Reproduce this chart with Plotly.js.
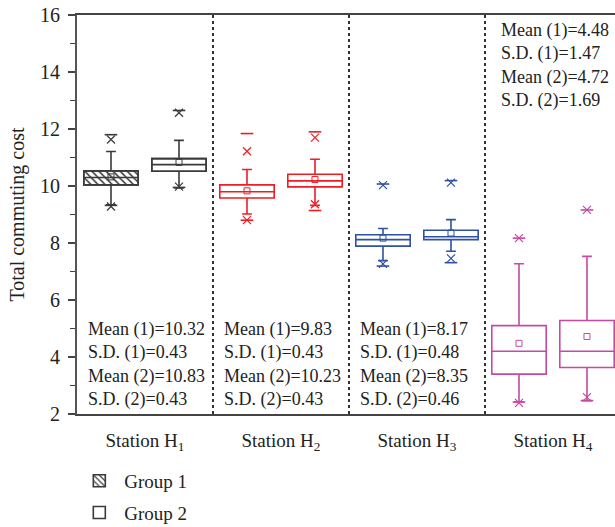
<!DOCTYPE html>
<html>
<head>
<meta charset="utf-8">
<script src="https://cdn.plot.ly/plotly-3.0.1.min.js"></script>
<style>html,body{margin:0;padding:0;overflow:hidden;background:#fff}</style>
</head>
<body>
<div id="chart" style="width:615px;height:527px"></div>
<script>
// ---- data ----
const stations = ['Station H<sub>1</sub>', 'Station H<sub>2</sub>', 'Station H<sub>3</sub>', 'Station H<sub>4</sub>'];
const groupNames = ['Group 1', 'Group 2'];

// Group 1 box statistics
const q1_g1   = [10.04, 9.58, 7.89, 3.40];
const med_g1  = [10.30, 9.80, 8.12, 4.20];
const q3_g1   = [10.53, 10.04, 8.29, 5.10];
const lo_g1   = [9.34, 9.02, 7.38, 2.42];
const hi_g1   = [11.21, 10.58, 8.51, 7.27];
const p1_g1   = [9.28, 8.80, 7.27, 2.39];
const p99_g1  = [11.63, 11.22, 10.03, 8.17];
const min_g1  = [9.32, 8.80, 7.19, 2.42];
const max_g1  = [11.80, 11.84, 10.07, 8.17];
const mean_g1 = [10.32, 9.83, 8.17, 4.48];
const sd_g1   = [0.43, 0.43, 0.48, 1.47];

// Group 2 box statistics
const q1_g2   = [10.52, 9.97, 8.12, 3.63];
const med_g2  = [10.75, 10.18, 8.22, 4.20];
const q3_g2   = [10.96, 10.41, 8.45, 5.28];
const lo_g2   = [9.93, 9.32, 7.71, 2.47];
const hi_g2   = [11.60, 10.94, 8.82, 7.53];
const p1_g2   = [9.98, 9.36, 7.46, 2.59];
const p99_g2  = [12.57, 11.70, 10.12, 9.16];
const min_g2  = [9.95, 9.14, 7.31, 2.47];
const max_g2  = [12.65, 11.90, 10.19, 9.16];
const mean_g2 = [10.83, 10.23, 8.35, 4.72];
const sd_g2   = [0.43, 0.43, 0.46, 1.69];

const yTickVals = [2, 4, 6, 8, 10, 12, 14, 16];

// ---- styles ----
const colors = ['#3a3a3a', '#ee1d25', '#2f51a3', '#c54aa1'];
const FONT = 'Liberation Serif';
const OFF = 0.25, BW = 0.4;

const traces = [];
// legend / hatch bars (H1 boxes)
traces.push({
  type: 'bar', name: groupNames[0], x: [0 - OFF], base: [q1_g1[0]], y: [q3_g1[0] - q1_g1[0]],
  width: BW, legendgroup: 'g1', hoverinfo: 'skip',
  marker: {color: '#ffffff', line: {color: colors[0], width: 1.6},
           pattern: {shape: '\\', fgcolor: '#3a3a3a', bgcolor: '#ffffff', size: 5, solidity: 0.3}}
});
traces.push({
  type: 'bar', name: groupNames[1], x: [0 + OFF], base: [q1_g2[0]], y: [q3_g2[0] - q1_g2[0]],
  width: BW, legendgroup: 'g2', hoverinfo: 'skip',
  marker: {color: '#ffffff', line: {color: colors[0], width: 1.6}}
});

for (let i = 0; i < stations.length; i++) {
  const xs = [i - OFF, i + OFF];
  const c = colors[i];
  traces.push({
    type: 'box', x: xs, q1: [q1_g1[i], q1_g2[i]], median: [med_g1[i], med_g2[i]],
    q3: [q3_g1[i], q3_g2[i]], lowerfence: [lo_g1[i], lo_g2[i]], upperfence: [hi_g1[i], hi_g2[i]],
    width: BW, whiskerwidth: 0.18, boxpoints: false, showlegend: false,
    fillcolor: 'rgba(0,0,0,0)', line: {color: c, width: 1.6}
  });
  traces.push({
    type: 'scatter', mode: 'markers', showlegend: false,
    x: [xs[0], xs[0], xs[1], xs[1]], y: [p1_g1[i], p99_g1[i], p1_g2[i], p99_g2[i]],
    marker: {symbol: 'x-thin-open', size: 8, color: c, line: {color: c, width: 1.2}}
  });
  traces.push({
    type: 'scatter', mode: 'markers', showlegend: false,
    x: [xs[0], xs[0], xs[1], xs[1]], y: [min_g1[i], max_g1[i], min_g2[i], max_g2[i]],
    marker: {symbol: 'line-ew-open', size: 9, color: c, line: {color: c, width: 1.6}}
  });
  traces.push({
    type: 'scatter', mode: 'markers', showlegend: false,
    x: xs, y: [mean_g1[i], mean_g2[i]],
    marker: {symbol: 'square-open', size: 6, color: c, line: {color: c, width: 1}}
  });
}

const annotations = stations.map((s, i) => {
  const txt = 'Mean (1)=' + mean_g1[i].toFixed(2) + '<br>S.D. (1)=' + sd_g1[i].toFixed(2) +
              '<br>Mean (2)=' + mean_g2[i].toFixed(2) + '<br>S.D. (2)=' + sd_g2[i].toFixed(2);
  const top = i === stations.length - 1;
  return {
    xref: 'x', yref: 'y', x: i - 0.5, y: top ? 16 : 2, xanchor: 'left', yanchor: top ? 'top' : 'bottom',
    xshift: top ? 14 : 9, yshift: top ? -3 : 2, align: 'left', showarrow: false, text: txt,
    font: {family: FONT, size: 18, color: '#222'}
  };
});

const layout = {
  width: 615, height: 527,
  margin: {l: 77, r: 0, t: 15, b: 113, autoexpand: false},
  paper_bgcolor: '#fff', plot_bgcolor: '#fff',
  font: {family: FONT, size: 19, color: '#222'},
  showlegend: true,
  barmode: 'overlay',
  legend: {x: -0.005, xanchor: 'left', y: -0.12, yanchor: 'top', orientation: 'v', itemwidth: 40,
           tracegroupgap: 4, font: {family: FONT, size: 19, color: '#222'}, bgcolor: 'rgba(0,0,0,0)'},
  xaxis: {
    range: [-0.5, 3.456], tickmode: 'array', tickvals: [0, 1, 2, 3], ticktext: stations,
    ticks: '', showgrid: false, zeroline: false, showline: true, mirror: true, automargin: false,
    linecolor: '#444', linewidth: 2, ticklabelstandoff: 8,
    tickfont: {family: FONT, size: 19, color: '#222'},
    minor: {tickmode: 'array', tickvals: [0.5, 1.5, 2.5], showgrid: true, griddash: 'dot',
            gridcolor: '#333', gridwidth: 1.5, ticks: ''}
  },
  yaxis: {
    range: [2, 16], tickmode: 'array', tickvals: yTickVals, ticks: 'outside', ticklen: 7, tickwidth: 1.5,
    tickcolor: '#444', showgrid: false, zeroline: false, showline: true, linecolor: '#555', linewidth: 2,
    automargin: false,
    tickfont: {family: FONT, size: 20, color: '#222'}, ticklabelstandoff: 4,
    title: {text: 'Total commuting cost', font: {family: FONT, size: 20, color: '#222'}, standoff: 10},
    minor: {tickmode: 'linear', tick0: 3, dtick: 2, ticks: 'outside', ticklen: 5, tickwidth: 1.5, tickcolor: '#444'}
  },
  annotations: annotations
};

Plotly.newPlot('chart', traces, layout, {displayModeBar: false, staticPlot: true});
</script>
</body>
</html>
